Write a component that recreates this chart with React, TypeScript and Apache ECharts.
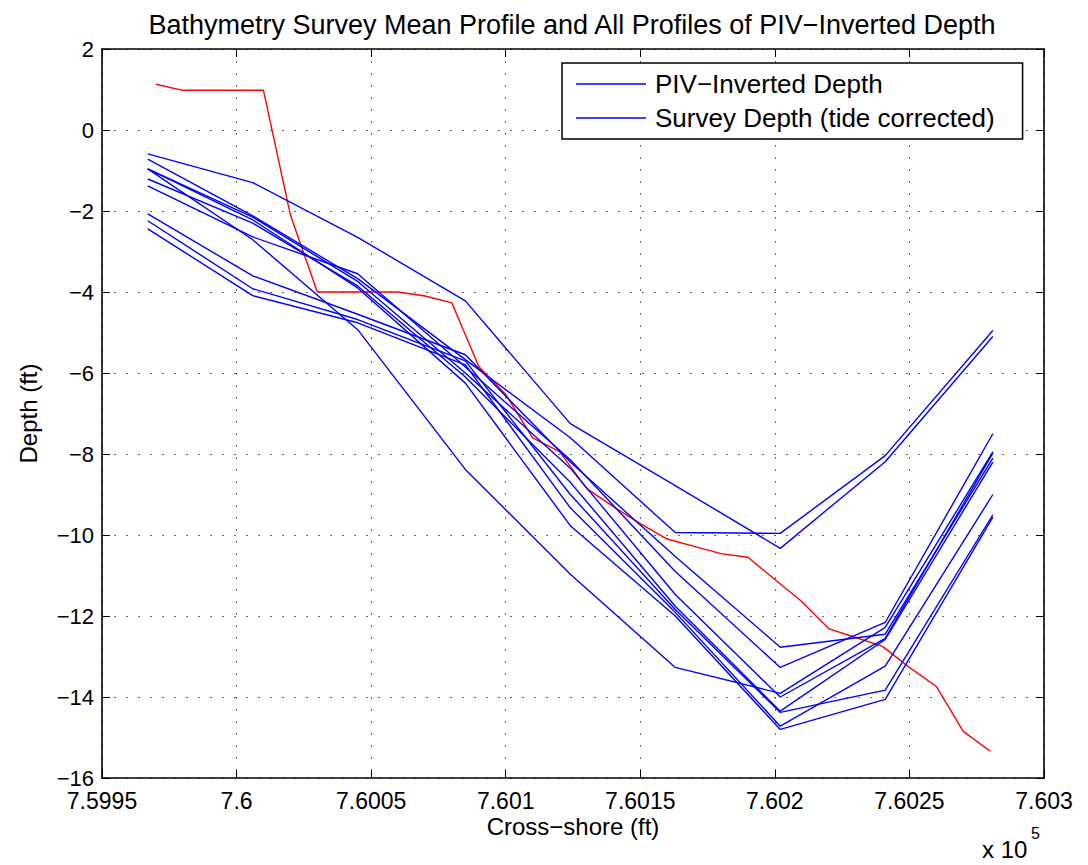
import React, { useEffect, useRef } from "react";
import * as echarts from "echarts";

// Cross-shore stations of the PIV-inverted profiles (ft)
const pivX = [759967, 760006, 760045, 760085, 760124, 760163, 760202, 760241, 760281];

// PIV-inverted depth profiles (ft)
const profile1 = [-0.59, -1.30, -2.65, -4.22, -7.25, -8.78, -10.33, -8.19, -5.10];
const profile2 = [-0.72, -2.12, -3.67, -5.67, -7.60, -9.94, -9.96, -8.04, -4.95];
const profile3 = [-0.96, -2.71, -4.93, -8.38, -10.97, -13.27, -13.91, -12.28, -7.95];
const profile4 = [-1.38, -2.64, -3.55, -5.85, -8.14, -10.90, -13.27, -12.16, -7.50];
const profile5 = [-1.21, -2.30, -3.85, -6.10, -8.70, -11.76, -14.35, -12.58, -8.20];
const profile6 = [-0.96, -2.15, -3.74, -6.00, -8.35, -11.47, -14.00, -12.55, -7.98];
const profile7 = [-0.96, -2.22, -3.90, -6.25, -9.77, -12.00, -14.80, -14.06, -9.56];
const profile8 = [-2.07, -3.60, -4.55, -5.55, -8.20, -10.53, -12.77, -12.45, -8.10];
const profile9 = [-2.24, -3.92, -4.68, -5.70, -9.00, -11.84, -14.38, -13.83, -9.50];
const profile10 = [-2.44, -4.09, -4.76, -5.80, -9.33, -11.91, -14.72, -13.24, -9.00];

// Survey mean profile (ft)
const surveyX = [
  759970, 759980, 759990, 760000, 760010, 760020, 760030, 760040, 760050, 760060,
  760070, 760080, 760090, 760100, 760110, 760120, 760130, 760140, 760150, 760160,
  760170, 760180, 760190, 760200, 760210, 760220, 760230, 760240, 760250, 760260,
  760270, 760280,
];
const surveyDepth = [
  1.13, 0.98, 0.98, 0.98, 0.98, -2.1, -4.0, -4.0, -4.0, -4.0,
  -4.1, -4.27, -5.84, -6.53, -7.6, -7.94, -8.85, -9.3, -9.72, -10.1,
  -10.28, -10.46, -10.55, -11.1, -11.64, -12.31, -12.53, -12.75, -13.27, -13.74,
  -14.85, -15.34,
];

const xTickLabels = ["7.5995", "7.6", "7.6005", "7.601", "7.6015", "7.602", "7.6025", "7.603"];
const legendNames = ["PIV\u2212Inverted Depth", "Survey Depth (tide corrected)"];

const profiles = [profile1, profile2, profile3, profile4, profile5, profile6, profile7, profile8, profile9, profile10];

const FONT = "'Liberation Sans', Arial, Helvetica, sans-serif";

export default function App() {
  const ref = useRef<HTMLDivElement>(null);

  useEffect(() => {
    document.body.style.margin = "0";
    if (!ref.current) return;
    const chart = echarts.init(ref.current, null, { renderer: "svg" });

    const xMin = 759950;
    const xMax = 760300;
    const xInt = 50;

    const fmtY = (v: number) => (v < 0 ? "\u2212" + Math.abs(v) : String(v));
    const fmtX = (v: number) => xTickLabels[Math.round((v - xMin) / xInt)] ?? "";

    const gridLine = { show: true, lineStyle: { color: "#666666", type: [2, 10] as any, width: 1 } };
    const axisLineStyle = { show: true, onZero: false, lineStyle: { color: "#000", width: 1.6 } };
    const tick = { show: true, inside: true, length: 8, lineStyle: { color: "#000", width: 1 } };

    const blueSeries = profiles.map((p, k) => ({
      type: "line",
      name: k < 2 ? legendNames[k] : "Profile " + (k + 1),
      data: pivX.map((x, i) => [x, p[i]]),
      showSymbol: false,
      symbol: "none",
      lineStyle: { color: "#0000ff", width: 1.4 },
      itemStyle: { color: "#0000ff" },
      z: 3,
    }));

    const option: any = {
      animation: false,
      backgroundColor: "#ffffff",
      textStyle: { fontFamily: FONT },
      title: {
        text: "Bathymetry Survey Mean Profile and All Profiles of PIV\u2212Inverted Depth",
        left: 567,
        top: 6,
        textAlign: "center",
        textStyle: { fontFamily: FONT, fontSize: 27, fontWeight: "normal", color: "#000" },
      },
      grid: {
        left: 102,
        right: 44,
        top: 49,
        bottom: 87,
        containLabel: false,
        outerBoundsMode: "none",
      },
      legend: {
        data: legendNames.map((n) => ({ name: n, icon: "rect", itemStyle: { color: "#0000ff" } })),
        orient: "vertical",
        left: 562,
        top: 63,
        padding: [8, 28, 8, 14],
        itemGap: 8,
        itemWidth: 70,
        itemHeight: 1.5,
        selectedMode: false,
        backgroundColor: "#fff",
        borderColor: "#000",
        borderWidth: 1.5,
        textStyle: { fontFamily: FONT, fontSize: 26, color: "#000", padding: [0, 0, 0, 4] },
      },
      xAxis: [
        {
          type: "value",
          min: xMin,
          max: xMax,
          interval: xInt,
          position: "bottom",
          name: "Cross\u2212shore (ft)",
          nameLocation: "middle",
          nameGap: 36,
          nameMoveOverlap: false,
          nameTextStyle: { fontFamily: FONT, fontSize: 24, color: "#000" },
          axisLine: axisLineStyle,
          axisTick: tick,
          axisLabel: { formatter: fmtX, fontFamily: FONT, fontSize: 23, lineHeight: 20, color: "#000", margin: 13 },
          splitLine: gridLine,
        },
        {
          type: "value",
          min: xMin,
          max: xMax,
          interval: xInt,
          position: "top",
          axisLine: axisLineStyle,
          axisTick: tick,
          axisLabel: { show: false },
          splitLine: { show: false },
        },
      ],
      yAxis: [
        {
          type: "value",
          min: -16,
          max: 2,
          interval: 2,
          position: "left",
          name: "Depth (ft)",
          nameLocation: "middle",
          nameGap: 62,
          nameMoveOverlap: false,
          nameRotate: 90,
          nameTextStyle: { fontFamily: FONT, fontSize: 24, color: "#000" },
          axisLine: axisLineStyle,
          axisTick: tick,
          axisLabel: { formatter: fmtY, fontFamily: FONT, fontSize: 22, lineHeight: 20, color: "#000", margin: 8 },
          splitLine: gridLine,
        },
        {
          type: "value",
          min: -16,
          max: 2,
          interval: 2,
          position: "right",
          axisLine: axisLineStyle,
          axisTick: tick,
          axisLabel: { show: false },
          splitLine: { show: false },
        },
      ],
      graphic: [
        {
          type: "text",
          left: 982,
          top: 837,
          style: { text: "x 10", fontFamily: FONT, fontSize: 24, fill: "#000" },
        },
        {
          type: "text",
          left: 1031,
          top: 825,
          style: { text: "5", fontFamily: FONT, fontSize: 16, fill: "#000" },
        },
      ],
      series: [
        ...blueSeries,
        {
          type: "line",
          name: "Survey Mean",
          data: surveyX.map((x, i) => [x, surveyDepth[i]]),
          showSymbol: false,
          symbol: "none",
          lineStyle: { color: "#ff0000", width: 1.4 },
          itemStyle: { color: "#ff0000" },
          z: 2,
        },
      ],
    };

    chart.setOption(option);
    return () => chart.dispose();
  }, []);

  return <div ref={ref} style={{ width: 1088, height: 865, display: "block" }} />;
}
